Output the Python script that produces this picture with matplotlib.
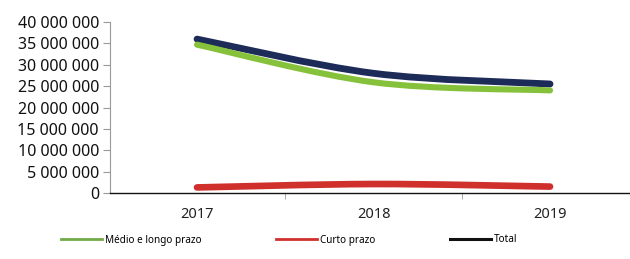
import matplotlib.pyplot as plt
from matplotlib.path import Path
from matplotlib.patches import PathPatch
from matplotlib.lines import Line2D
from matplotlib.ticker import FuncFormatter, FixedLocator

# data
years = ["2017", "2018", "2019"]
medio_longo = [34.7e6, 25.9e6, 24.0e6]
curto = [1.3e6, 2.1e6, 1.5e6]
total = [36.0e6, 28.0e6, 25.5e6]

C_GREEN = "#86c13c"
C_RED = "#d0302c"
C_NAVY = "#1c2b57"


def smooth_path(xs, ys):
    # Catmull-Rom style bezier through the points (like excel smoothed lines)
    pts = list(zip(xs, ys))
    n = len(pts)
    verts = [pts[0]]
    codes = [Path.MOVETO]
    for i in range(n - 1):
        p0 = pts[max(i - 1, 0)]
        p1 = pts[i]
        p2 = pts[i + 1]
        p3 = pts[min(i + 2, n - 1)]
        c1 = (p1[0] + (p2[0] - p0[0]) / 6, p1[1] + (p2[1] - p0[1]) / 6)
        c2 = (p2[0] - (p3[0] - p1[0]) / 6, p2[1] - (p3[1] - p1[1]) / 6)
        verts += [c1, c2, p2]
        codes += [Path.CURVE4] * 3
    return Path(verts, codes)


plt.rcParams["font.family"] = ["Noto Sans", "DejaVu Sans"]

fig = plt.figure(figsize=(6.30, 2.59), dpi=100)
ax = fig.add_axes([110 / 630, 66 / 259, 520 / 630, 171 / 259])

x = list(range(len(years)))
for vals, col, lw in [(curto, C_RED, 4.8), (total, C_NAVY, 4.9), (medio_longo, C_GREEN, 4.4)]:
    ax.add_patch(PathPatch(smooth_path(x, vals), facecolor="none", edgecolor=col,
                           lw=lw, capstyle="round", joinstyle="round"))

ax.set_xlim(-0.493, 2.453)
ax.set_ylim(0, 40e6)
ax.set_yticks([i * 5e6 for i in range(9)])
ax.yaxis.set_major_formatter(FuncFormatter(lambda v, p: f"{int(v):,}".replace(",", " ")))

ax.set_xticks(x)
ax.set_xticklabels(years)
ax.xaxis.set_minor_locator(FixedLocator([0.5, 1.5]))
ax.tick_params(axis="x", which="major", length=0, pad=10, labelsize=10.5, colors="#222222")
ax.tick_params(axis="x", which="minor", length=4, color="#999999", direction="out")
ax.tick_params(axis="y", length=5, color="#999999", labelsize=11.5, labelcolor="#111111", pad=3)

for s in ["top", "right"]:
    ax.spines[s].set_visible(False)
ax.spines["left"].set_color("#999999")
ax.spines["bottom"].set_color("#111111")
ax.spines["bottom"].set_linewidth(1.0)

handles = [Line2D([], [], color="#72aa48", lw=2),
           Line2D([], [], color=C_RED, lw=2),
           Line2D([], [], color="#111111", lw=2.2)]
fig.legend(handles, ["Médio e longo prazo", "Curto prazo", "Total"],
           loc="center", bbox_to_anchor=(289 / 630, 19 / 259), ncol=3, frameon=False,
           fontsize=7.2, handlelength=4.1, handletextpad=0.35, columnspacing=7.4)

fig.savefig("out.png", dpi=100)
